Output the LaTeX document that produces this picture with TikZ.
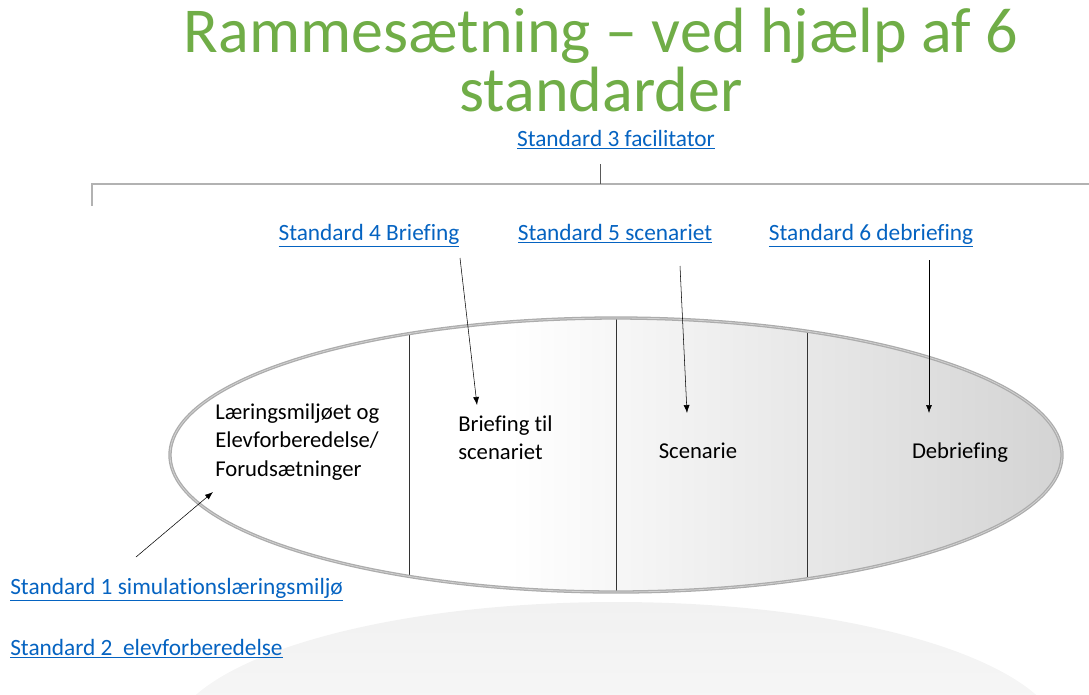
\documentclass[tikz,border=0pt]{standalone}
\usepackage{fontspec}
\setmainfont[Ligatures={NoCommon}]{Carlito}
\usetikzlibrary{arrows.meta}

\definecolor{titelgroen}{RGB}{112,173,71}
\definecolor{linkblaa}{RGB}{5,99,193}
\pgfdeclarehorizontalshading{ovalfyld}{100bp}{color(0bp)=(white); color(25bp)=(white); color(44bp)=(white); color(75bp)=(gray!34); color(100bp)=(gray!34)}
\pgfdeclareverticalshading{spejlfyld}{100bp}{color(0bp)=(white); color(25bp)=(white); color(75bp)=(gray!11); color(100bp)=(gray!11)}

\tikzset{
  titel/.style={text=titelgroen, font=\fontsize{48}{46}\selectfont, inner sep=0pt, anchor=base},
  link/.style={text=linkblaa, font=\fontsize{17.5}{21}\selectfont, inner sep=0pt, anchor=base},
  fase/.style={font=\fontsize{17}{21.7}\selectfont, align=left, inner sep=0pt},
  pil/.style={-{Latex[length=6pt,width=4.5pt]}, thin},
  oval/.style={x radius=446, y radius=137},
}

\begin{document}
\begin{tikzpicture}[x=0.75pt,y=-0.75pt]
    \useasboundingbox (0,0) rectangle (1089,694);

    % spejlbillede under ovalen
    \begin{scope}
        \clip (0,0) rectangle (1089,694);
        \shade[shading=spejlfyld] (616,742) ellipse [x radius=446, y radius=140];
    \end{scope}

    \node [titel] (titel) at (601,52) {Rammesætning – ved hjælp af 6};
    \node [titel] (titel2) at (601,111) {standarder};

    % ramme for facilitator
    \coordinate (rammetop) at (600,184);
    \coordinate (facben) at (600,164);
    \draw [gray!60, line width=1.5pt] (92,206) -- (92,184) -- (1089,184);
    \draw [gray!70!black] (facben) -- (rammetop);

    % ovalen med faserne
    \coordinate (oval) at (616,455);
    \shade [shading=ovalfyld] (oval) ellipse [oval];
    \begin{scope}
        \clip (oval) ellipse [oval];
        \foreach \x in {409,616,807}{%
            \draw [gray!40!black] (\x,300) -- (\x,610);}
    \end{scope}
    \draw [gray!65, line width=2.5pt] (oval) ellipse [oval];
    \draw [gray!35, line width=0.6pt] (oval) ellipse [oval];

    \node [fase, anchor=north west] (laering) at (215,403) {Læringsmiljøet og\\Elevforberedelse/\\Forudsætninger};
    \node [fase, anchor=north west] (briefing) at (458,415) {Briefing til\\scenariet};
    \node [fase, anchor=base] (scenarie) at (698,458) {Scenarie};
    \node [fase, anchor=base] (debriefing) at (960,458) {Debriefing};

    \node [link] (std3) at (616,146) {\underline{Standard 3 facilitator}};
    \node [link] (std4) at (369,240) {\underline{Standard 4 Briefing}};
    \node [link] (std5) at (615,240) {\underline{Standard 5 scenariet}};
    \node [link] (std6) at (871,240) {\underline{Standard 6 debriefing}};
    \node [link, anchor=base west] (std1) at (10,594) {\underline{Standard 1 simulationslæringsmiljø}};
    \node [link, anchor=base west] (std2) at (10,655) {\underline{Standard 2\ \ elevforberedelse}};

    \coordinate (p4a) at (460,258);  \coordinate (p4b) at (477,405);
    \coordinate (p5a) at (680,266);  \coordinate (p5b) at (687,413);
    \coordinate (p6a) at (929,260);  \coordinate (p6b) at (929,413);
    \coordinate (p1a) at (136,557);  \coordinate (p1b) at (213,492);
    \draw [pil] (p4a) -- (p4b);
    \draw [pil] (p5a) -- (p5b);
    \draw [pil] (p6a) -- (p6b);
    \draw [pil] (p1a) -- (p1b);
\end{tikzpicture}
\end{document}
